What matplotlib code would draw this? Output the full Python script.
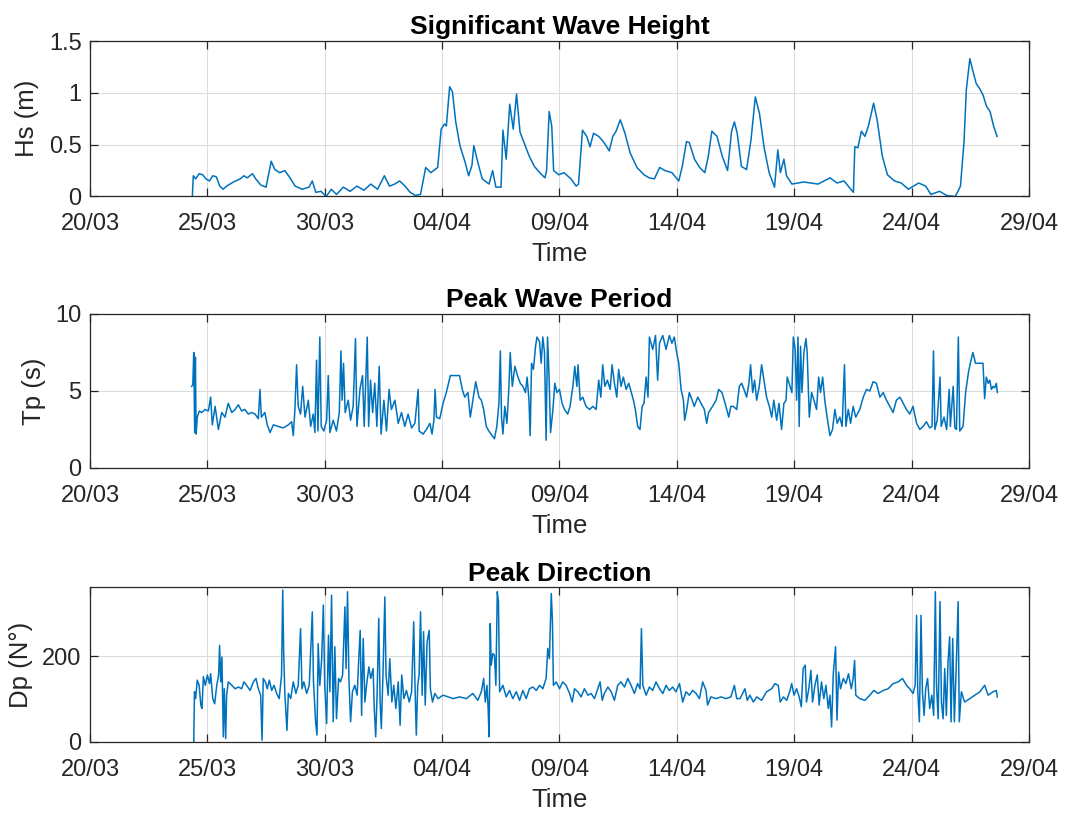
import numpy as np
import pandas as pd
import matplotlib
matplotlib.use("Agg")
import matplotlib.pyplot as plt
import matplotlib.dates as mdates
from matplotlib.ticker import FormatStrFormatter

plt.rcParams["font.family"] = ["Liberation Sans", "DejaVu Sans"]

# buoy record, time in days after 20/03 00:00
hs_day = [4.36, 4.40, 4.50, 4.65, 4.80, 4.94, 5.09, 5.23, 5.38, 5.53, 5.67, 5.82, 6.11, 6.40, 6.55,
          6.70, 6.92, 7.06, 7.28, 7.50, 7.72, 7.87, 8.08, 8.30, 8.52, 8.74, 9.04, 9.33, 9.47, 9.62,
          9.84, 10.06, 10.28, 10.50, 10.79, 11.08, 11.37, 11.67, 11.96, 12.25, 12.54, 12.76, 12.98,
          13.19, 13.42, 13.64, 13.86, 14.08, 14.30, 14.52, 14.81, 14.96, 15.10, 15.18, 15.32, 15.44,
          15.58, 15.76, 15.98, 16.13, 16.27, 16.35, 16.52, 16.71, 17.00, 17.15, 17.29, 17.51, 17.59,
          17.73, 17.88, 18.03, 18.17, 18.32, 18.71, 18.93, 19.16, 19.38, 19.45, 19.56, 19.67, 19.75,
          19.97, 20.19, 20.49, 20.71, 20.81, 20.98, 21.16, 21.30, 21.45, 21.67, 21.90, 22.12, 22.27,
          22.41, 22.59, 22.79, 23.01, 23.30, 23.60, 23.82, 24.04, 24.27, 24.49, 24.79, 25.08, 25.23,
          25.41, 25.53, 25.75, 25.97, 26.19, 26.34, 26.49, 26.71, 26.93, 27.16, 27.33, 27.45, 27.57,
          27.75, 27.97, 28.16, 28.34, 28.52, 28.71, 28.93, 29.16, 29.30, 29.41, 29.56, 29.67, 29.90,
          30.41, 31.01, 31.53, 31.82, 32.12, 32.41, 32.52, 32.58, 32.71, 32.86, 33.01, 33.16, 33.38,
          33.53, 33.75, 33.97, 34.27, 34.56, 34.86, 35.30, 35.60, 35.82, 36.19, 36.49, 36.86, 37.08,
          37.23, 37.33, 37.48, 37.60, 37.75, 37.90, 38.04, 38.19, 38.34, 38.49, 38.64]
hs_val = [0.00, 0.20, 0.17, 0.22, 0.21, 0.17, 0.15, 0.20, 0.19, 0.10, 0.07, 0.10, 0.14, 0.17, 0.20,
          0.18, 0.22, 0.17, 0.11, 0.09, 0.34, 0.26, 0.23, 0.25, 0.18, 0.10, 0.07, 0.09, 0.15, 0.04,
          0.05, 0.00, 0.07, 0.02, 0.09, 0.05, 0.10, 0.06, 0.12, 0.07, 0.20, 0.10, 0.12,
          0.15, 0.10, 0.04, 0.01, 0.02, 0.28, 0.23, 0.28, 0.65, 0.70, 0.68, 1.06, 1.01,
          0.72, 0.49, 0.33, 0.20, 0.30, 0.49, 0.33, 0.17, 0.12, 0.25, 0.09, 0.09, 0.64,
          0.36, 0.89, 0.65, 0.99, 0.62, 0.39, 0.29, 0.23, 0.18, 0.25, 0.82, 0.68, 0.25,
          0.21, 0.23, 0.17, 0.10, 0.12, 0.64, 0.58, 0.48, 0.61, 0.58, 0.52, 0.44, 0.58,
          0.63, 0.74, 0.61, 0.42, 0.28, 0.21, 0.18, 0.17, 0.28, 0.25, 0.23, 0.15, 0.29,
          0.53, 0.52, 0.36, 0.28, 0.23, 0.39, 0.63, 0.58, 0.39, 0.25, 0.63, 0.72, 0.61,
          0.29, 0.26, 0.55, 0.96, 0.80, 0.48, 0.23, 0.09, 0.45, 0.23, 0.36, 0.20, 0.12,
          0.14, 0.12, 0.18, 0.13, 0.15, 0.07, 0.04, 0.48, 0.47, 0.63, 0.58, 0.68, 0.90,
          0.74, 0.39, 0.21, 0.15, 0.13, 0.07, 0.13, 0.10, 0.02, 0.05, 0.01, 0.00, 0.10,
          0.52, 1.03, 1.33, 1.22, 1.09, 1.04, 0.98, 0.87, 0.82, 0.68, 0.58]

tp_day = [4.33, 4.38, 4.42, 4.46, 4.49, 4.52, 4.57, 4.66, 4.76, 4.90, 5.04, 5.14, 5.21, 5.33, 5.47,
          5.61, 5.75, 5.89, 6.04, 6.18, 6.32, 6.46, 6.60, 6.74, 6.89, 7.03, 7.17, 7.24, 7.30, 7.45,
          7.55, 7.67, 7.81, 8.02, 8.23, 8.45, 8.59, 8.66, 8.73, 8.80, 8.87, 8.97, 9.06, 9.16, 9.30,
          9.40, 9.51, 9.58, 9.65, 9.71, 9.79, 9.85, 9.96, 10.08, 10.15, 10.22, 10.36, 10.50, 10.62,
          10.69, 10.74, 10.80, 10.87, 11.00, 11.10, 11.21, 11.31, 11.37, 11.50, 11.61, 11.68, 11.75,
          11.81, 11.87, 11.95, 12.04, 12.13, 12.22, 12.32, 12.40, 12.52, 12.63, 12.74, 12.84, 12.99,
          13.13, 13.27, 13.41, 13.55, 13.70, 13.84, 13.98, 14.02, 14.19, 14.33, 14.48, 14.57, 14.65,
          14.70, 14.76, 14.90, 15.04, 15.18, 15.35, 15.74, 15.86, 15.96, 16.10, 16.20, 16.31, 16.43,
          16.57, 16.67, 16.77, 16.88, 16.99, 17.13, 17.23, 17.33, 17.42, 17.48, 17.53, 17.59, 17.67,
          17.76, 17.84, 17.90, 17.99, 18.10, 18.23, 18.33, 18.44, 18.55, 18.62, 18.70, 18.75, 18.81,
          18.89, 18.98, 19.04, 19.15, 19.22, 19.29, 19.36, 19.43, 19.49, 19.55, 19.62, 19.72, 19.80,
          19.89, 20.00, 20.11, 20.21, 20.35, 20.45, 20.57, 20.65, 20.74, 20.79, 20.88, 20.99, 21.13,
          21.28, 21.42, 21.56, 21.67, 21.76, 21.84, 21.93, 22.04, 22.16, 22.24, 22.34, 22.44, 22.52,
          22.62, 22.72, 22.84, 22.95, 23.06, 23.15, 23.23, 23.33, 23.43, 23.52, 23.60, 23.69, 23.77,
          23.83, 23.97, 24.09, 24.18, 24.26, 24.40, 24.54, 24.68, 24.79, 24.89, 24.99, 25.08, 25.18,
          25.28, 25.33, 25.42, 25.53, 25.65, 25.74, 25.89, 26.03, 26.17, 26.27, 26.35, 26.52, 26.67,
          26.78, 26.92, 27.09, 27.21, 27.30, 27.40, 27.55, 27.66, 27.76, 27.86, 27.97, 28.07, 28.14,
          28.23, 28.31, 28.40, 28.51, 28.61, 28.71, 28.82, 28.94, 29.04, 29.13, 29.25, 29.35, 29.46,
          29.56, 29.65, 29.70, 29.82, 29.90, 29.96, 30.04, 30.10, 30.16, 30.21, 30.27, 30.33, 30.41,
          30.50, 30.55, 30.64, 30.74, 30.84, 30.95, 31.04, 31.12, 31.21, 31.30, 31.40, 31.52, 31.63,
          31.73, 31.83, 31.94, 32.04, 32.14, 32.20, 32.30, 32.40, 32.51, 32.62, 32.79, 32.94, 33.08,
          33.22, 33.36, 33.50, 33.65, 33.79, 33.93, 34.07, 34.21, 34.35, 34.50, 34.64, 34.78, 34.92,
          35.06, 35.21, 35.35, 35.49, 35.63, 35.77, 35.87, 35.93, 35.99, 36.09, 36.21, 36.26, 36.38,
          36.49, 36.60, 36.65, 36.77, 36.84, 36.91, 36.99, 37.05, 37.19, 37.30, 37.42, 37.50, 37.61,
          37.72, 38.04, 38.11, 38.18, 38.26, 38.33, 38.40, 38.47, 38.54, 38.61, 38.65]
tp_val = [5.3, 5.4, 7.5, 2.3, 7.2, 2.2, 3.3, 3.7, 3.6, 3.8, 3.7, 4.6, 2.8, 4.0, 2.5,
          3.6, 3.3, 4.2, 3.6, 3.8, 4.1, 3.7, 3.8, 3.5, 3.6, 3.5, 3.2, 5.1, 3.3, 3.6,
          2.8, 2.3, 2.8, 2.7, 2.6, 2.8, 3.0, 2.1, 3.8, 6.7, 4.0, 3.5, 5.3, 3.3, 4.4,
          2.7, 3.5, 2.3, 7.0, 2.4, 8.5, 2.7, 2.4, 3.1, 6.0, 2.3, 3.1, 2.4, 3.6,
          7.6, 4.4, 6.8, 3.6, 4.4, 3.1, 4.0, 8.4, 2.7, 5.1, 6.0, 2.7, 5.9,
          8.5, 2.7, 5.7, 3.6, 5.5, 2.7, 6.6, 2.2, 4.4, 2.4, 5.1, 3.8, 4.4,
          2.9, 3.6, 2.7, 3.5, 2.6, 2.9, 5.1, 2.4, 2.2, 2.5, 2.9, 2.2, 3.1,
          5.1, 3.3, 3.2, 4.2, 4.9, 6.0, 6.0, 5.1, 4.6, 4.9, 3.3, 4.4, 5.6,
          4.6, 4.4, 3.8, 2.7, 2.4, 2.1, 1.9, 2.7, 4.2, 7.6, 3.3, 2.2, 4.0,
          2.9, 5.1, 7.5, 5.3, 6.6, 5.9, 5.5, 5.3, 4.9, 5.9, 4.4, 2.1, 6.8,
          6.4, 7.9, 8.5, 8.2, 6.8, 8.5, 7.5, 1.8, 8.5, 6.2, 2.3, 3.8, 5.5,
          4.9, 5.1, 4.2, 3.8, 3.5, 4.0, 5.3, 6.6, 5.3, 6.7, 4.4, 4.6, 4.0,
          3.8, 4.0, 3.8, 5.7, 4.6, 6.7, 5.3, 5.7, 5.1, 6.7, 5.5, 4.6, 6.4,
          5.3, 5.9, 5.1, 5.5, 4.9, 4.4, 3.8, 2.7, 2.5, 4.0, 4.2, 5.9, 4.6,
          8.5, 7.7, 8.6, 5.7, 8.1, 8.6, 7.7, 8.6, 8.1, 8.5, 7.5, 6.8, 5.1,
          4.4, 3.1, 3.8, 4.9, 4.4, 4.0, 4.6, 4.2, 3.8, 2.9, 3.6, 4.0, 4.4,
          5.1, 4.9, 4.0, 3.3, 4.0, 4.0, 3.8, 5.3, 5.5, 5.1, 4.6, 5.5, 6.7,
          4.9, 5.7, 4.4, 5.3, 6.7, 5.7, 4.6, 4.0, 3.3, 4.4, 3.1, 4.2, 2.5,
          4.2, 4.4, 5.9, 5.3, 4.9, 8.5, 7.7, 4.4, 8.5, 2.7, 7.9, 4.9, 7.5,
          8.4, 7.5, 3.3, 4.9, 4.4, 3.8, 5.9, 4.9, 5.9, 4.4, 3.3, 2.1, 2.5,
          3.8, 2.9, 3.3, 2.7, 6.7, 2.7, 3.8, 2.9, 4.0, 3.3, 3.8, 4.6, 5.1,
          5.0, 5.6, 5.5, 4.6, 4.9, 4.4, 4.0, 3.6, 4.4, 4.6, 4.2, 3.8, 3.5,
          4.0, 2.9, 2.5, 2.7, 3.0, 2.6, 2.7, 7.6, 2.5, 3.1, 5.9, 2.7, 3.3,
          2.5, 5.1, 2.7, 5.3, 2.6, 2.5, 8.5, 2.4, 2.7, 4.9, 6.2, 6.8, 7.5,
          6.8, 6.8, 4.5, 5.9, 5.5, 5.7, 5.1, 5.3, 5.2, 5.5, 4.9]

dp_day = [4.42, 4.45, 4.50, 4.57, 4.65, 4.72, 4.77, 4.83, 4.91, 5.00, 5.09, 5.14, 5.23, 5.31, 5.40,
          5.48, 5.52, 5.57, 5.62, 5.68, 5.72, 5.78, 5.82, 5.89, 6.04, 6.18, 6.32, 6.46, 6.56, 6.67,
          6.82, 6.96, 7.07, 7.17, 7.27, 7.33, 7.38, 7.47, 7.55, 7.64, 7.74, 7.84, 7.95, 8.06, 8.16,
          8.21, 8.25, 8.30, 8.39, 8.45, 8.55, 8.66, 8.77, 8.87, 8.97, 9.03, 9.11, 9.23, 9.34, 9.47,
          9.52, 9.61, 9.67, 9.72, 9.79, 9.87, 9.94, 10.00, 10.08, 10.16, 10.22, 10.29, 10.36, 10.43,
          10.50, 10.59, 10.67, 10.76, 10.86, 10.91, 10.97, 11.03, 11.10, 11.18, 11.28, 11.38, 11.45,
          11.51, 11.57, 11.64, 11.71, 11.78, 11.88, 11.96, 12.06, 12.11, 12.17, 12.23, 12.30, 12.36,
          12.41, 12.48, 12.56, 12.61, 12.70, 12.77, 12.86, 12.94, 13.03, 13.13, 13.21, 13.28, 13.37,
          13.48, 13.60, 13.70, 13.79, 13.84, 13.90, 13.96, 14.02, 14.08, 14.15, 14.21, 14.28, 14.36,
          14.45, 14.50, 14.59, 14.69, 14.83, 15.04, 15.26, 15.47, 15.74, 16.03, 16.31, 16.52, 16.67,
          16.77, 16.84, 16.91, 16.96, 17.00, 17.05, 17.09, 17.16, 17.23, 17.29, 17.35, 17.40, 17.45,
          17.59, 17.73, 17.87, 18.01, 18.16, 18.30, 18.44, 18.58, 18.72, 18.87, 19.01, 19.15, 19.29,
          19.43, 19.50, 19.57, 19.65, 19.70, 19.74, 19.86, 20.00, 20.14, 20.28, 20.43, 20.54, 20.64,
          20.78, 20.92, 21.06, 21.21, 21.35, 21.49, 21.63, 21.73, 21.82, 21.91, 22.06, 22.20, 22.34,
          22.48, 22.62, 22.77, 22.91, 23.05, 23.19, 23.33, 23.43, 23.49, 23.55, 23.69, 23.83, 23.97,
          24.11, 24.26, 24.40, 24.54, 24.68, 24.82, 24.96, 25.11, 25.25, 25.39, 25.53, 25.67, 25.82,
          25.96, 26.10, 26.24, 26.31, 26.45, 26.67, 26.88, 27.09, 27.30, 27.45, 27.55, 27.69, 27.90,
          28.00, 28.11, 28.26, 28.40, 28.61, 28.82, 29.04, 29.18, 29.32, 29.40, 29.54, 29.68, 29.82,
          29.89, 29.99, 30.10, 30.21, 30.30, 30.38, 30.47, 30.52, 30.62, 30.71, 30.78, 30.88, 30.98,
          31.06, 31.16, 31.26, 31.35, 31.45, 31.52, 31.59, 31.66, 31.76, 31.82, 31.89, 31.97, 32.09,
          32.20, 32.31, 32.43, 32.51, 32.57, 32.62, 32.79, 33.01, 33.22, 33.39, 33.57, 33.79, 34.00,
          34.21, 34.43, 34.61, 34.78, 34.92, 35.06, 35.15, 35.21, 35.26, 35.33, 35.40, 35.46, 35.53,
          35.60, 35.68, 35.77, 35.86, 35.94, 36.01, 36.06, 36.13, 36.21, 36.27, 36.34, 36.41, 36.48,
          36.55, 36.62, 36.68, 36.75, 36.82, 36.90, 36.98, 37.03, 37.12, 37.26, 37.48, 37.69, 37.91,
          38.11, 38.26, 38.47, 38.61, 38.65]
dp_val = [0, 117, 101, 144, 132, 86, 78, 152, 132, 156, 136, 159, 101, 89, 132,
          156, 225, 140, 198, 12, 124, 8, 109, 140, 132, 124, 128, 124, 140, 132,
          120, 140, 148, 124, 109, 4, 148, 140, 124, 144, 120, 132, 113, 101, 156,
          354, 210, 113, 27, 113, 101, 140, 113, 132, 264, 124, 140, 113, 132, 303,
          140, 47, 16, 229, 132, 194, 319, 132, 43, 249, 117, 342, 47, 222,
          54, 148, 140, 156, 315, 171, 350, 148, 47, 117, 132, 109, 194,
          260, 62, 241, 93, 132, 175, 148, 171, 78, 12, 109, 288, 93,
          31, 156, 338, 156, 109, 194, 93, 132, 78, 140, 39, 156, 101,
          120, 93, 117, 280, 140, 16, 132, 156, 303, 109, 257, 86, 233,
          260, 124, 93, 113, 101, 109, 105, 101, 105, 101, 113, 97, 117,
          148, 93, 132, 78, 12, 276, 179, 206, 202, 132, 350, 327, 117,
          132, 105, 120, 101, 117, 97, 120, 101, 124, 128, 120, 132, 124,
          148, 218, 194, 346, 280, 132, 140, 124, 140, 132, 113, 93, 124,
          117, 105, 124, 109, 113, 101, 124, 140, 97, 113, 128, 117, 97,
          132, 140, 128, 148, 132, 113, 136, 124, 264, 132, 109, 128, 120,
          140, 124, 113, 132, 120, 128, 117, 136, 93, 117, 109, 120, 113,
          101, 140, 120, 86, 105, 101, 105, 101, 105, 132, 101, 101, 124,
          97, 109, 93, 105, 97, 117, 124, 136, 132, 93, 105, 97, 120,
          136, 109, 124, 105, 82, 171, 179, 93, 124, 167, 93, 132, 156,
          86, 140, 101, 132, 78, 109, 35, 156, 222, 51, 163, 124, 148,
          136, 159, 124, 148, 190, 109, 101, 97, 109, 120, 113, 120, 124,
          136, 140, 148, 132, 124, 113, 132, 295, 120, 47, 295, 117, 62,
          124, 148, 78, 109, 62, 350, 132, 54, 327, 93, 54, 171, 62,
          187, 245, 47, 241, 47, 175, 327, 47, 117, 93, 101, 109, 117,
          132, 109, 117, 120, 105]

start = pd.Timestamp("2019-03-20")


def to_time(days):
    return start + pd.to_timedelta(np.asarray(days, dtype=float), unit="D")


panels = [
    (hs_day, hs_val, "Significant Wave Height", "Hs (m)", (0, 1.5), [0, 0.5, 1, 1.5]),
    (tp_day, tp_val, "Peak Wave Period", "Tp (s)", (0, 10), [0, 5, 10]),
    (dp_day, dp_val, "Peak Direction", "Dp (N\u00b0)", (0, 360), [0, 200]),
]
bottoms = [0.7586, 0.4251, 0.0885]
heights = [0.191, 0.1892, 0.1898]

fig = plt.figure(figsize=(10.65, 8.14), dpi=100)
dark = "#262626"
xticks = pd.date_range(start, periods=9, freq="5D")

for (days, vals, title, ylabel, ylim, yticks), b, h in zip(panels, bottoms, heights):
    ax = fig.add_axes([0.0845, b, 0.8817, h])
    ax.plot(to_time(days), vals, color="#0072BD", lw=1.1)
    ax.set_xlim(start, start + pd.Timedelta(days=40))
    ax.set_ylim(*ylim)
    ax.set_yticks(yticks)
    ax.yaxis.set_major_formatter(FormatStrFormatter("%g"))
    ax.set_xticks(xticks)
    ax.xaxis.set_major_formatter(mdates.DateFormatter("%d/%m"))
    ax.grid(True, color="#dcdcdc", lw=0.8)
    ax.set_axisbelow(True)
    for s in ax.spines.values():
        s.set_color(dark)
        s.set_linewidth(0.9)
    ax.tick_params(direction="in", length=6, width=0.9, color=dark, labelcolor=dark,
                   labelsize=17, top=True, right=True)
    ax.tick_params(axis="x", pad=12)
    ax.tick_params(axis="y", pad=6)
    ax.set_title(title, fontsize=19, fontweight="bold", color="black", pad=5)
    ax.set_xlabel("Time", fontsize=18.5, color=dark, labelpad=5)
    ax.set_ylabel(ylabel, fontsize=18.5, color=dark, labelpad=7)

fig.savefig("out.png", dpi=100)
